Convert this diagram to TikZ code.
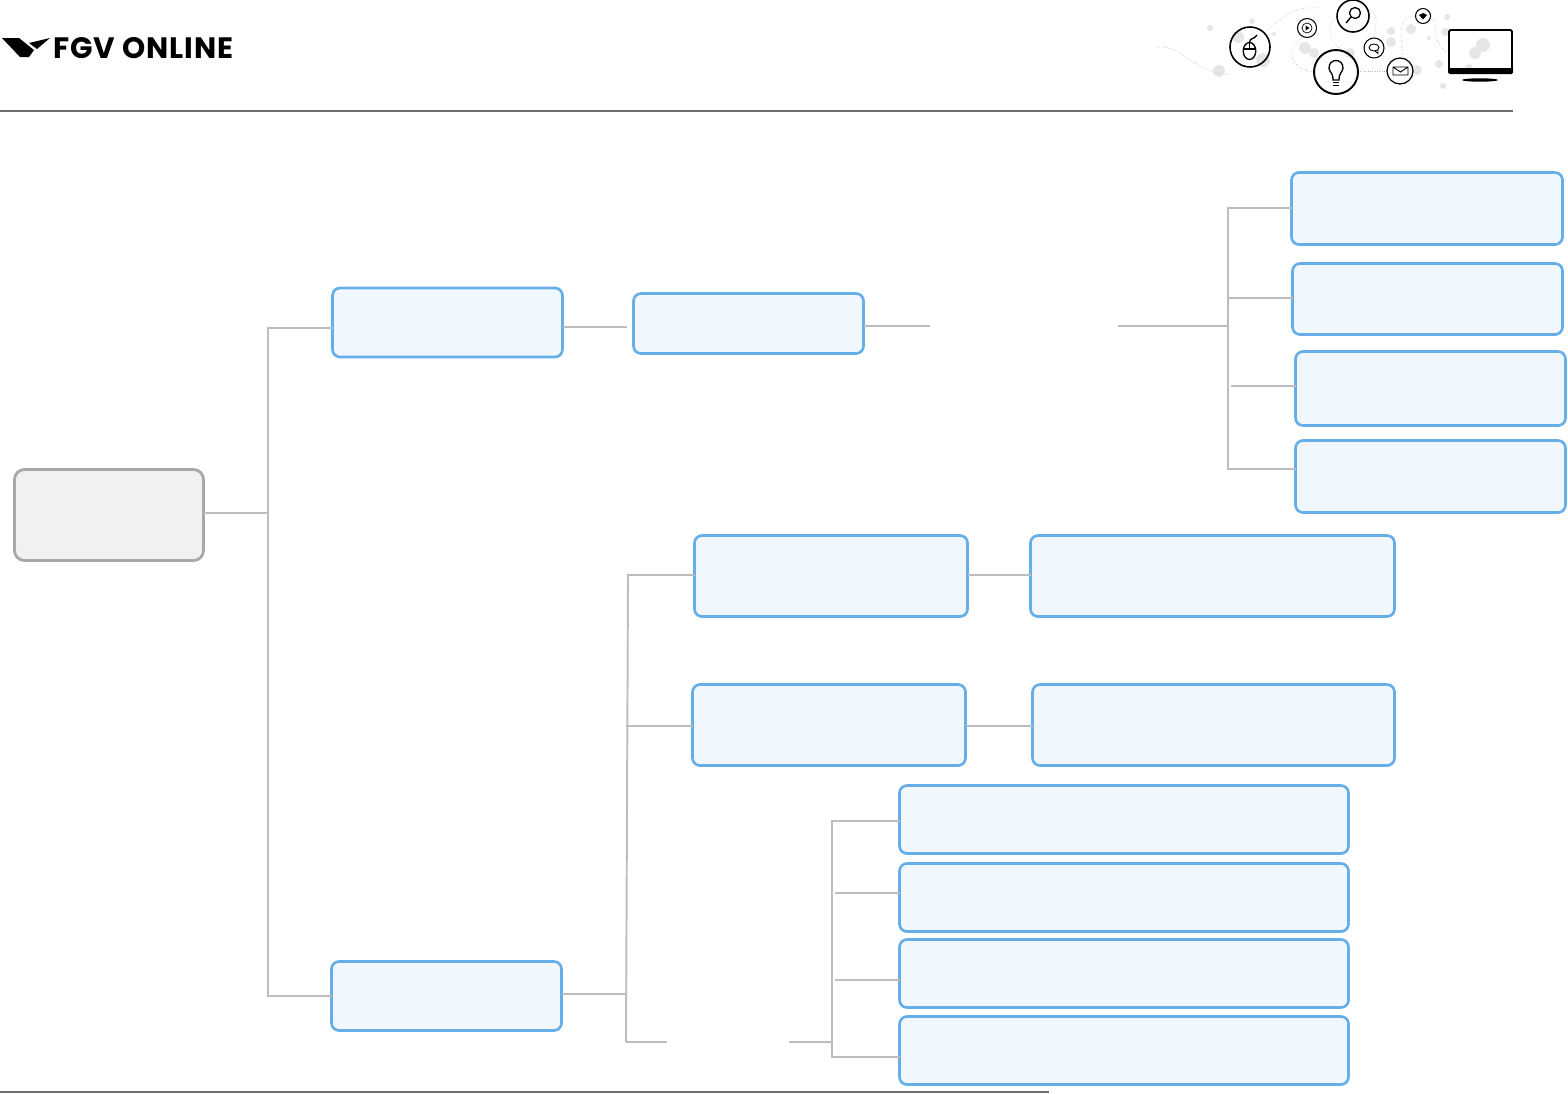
\documentclass[tikz,border=0pt]{standalone}
\usepackage{fontspec}
\newfontfamily\logofont[LetterSpace=3]{Poppins}
\definecolor{boxblue}{HTML}{66AEE8}
\definecolor{boxfill}{HTML}{F0F7FE}
\definecolor{rootline}{HTML}{A8A8A8}
\definecolor{rootfill}{HTML}{F1F1F1}
\definecolor{wireg}{HTML}{BDBDBD}
\definecolor{ruleg}{HTML}{6E6E6E}
\definecolor{dotg}{HTML}{E6E6E6}
\tikzset{
    sized/.style 2 args={minimum width=#1*0.02cm, minimum height=#2*0.02cm, inner sep=0pt, outer sep=0pt},
    bluebox/.style={draw=boxblue, fill=boxfill, line width=1.5pt, rounded corners=0.15cm},
    rootbox/.style={draw=rootline, fill=rootfill, line width=1.6pt, rounded corners=0.2cm},
    wire/.style={draw=wireg, line width=0.75pt},
    wirethick/.style={draw=wireg, line width=1.1pt},
    iconline/.style={draw=black, line width=0.75pt},
    iconring/.style={draw=black, line width=0.9pt},
    trail/.style={draw=gray!60, line width=0.35pt, densely dotted},
}
\begin{document}
\begin{tikzpicture}[x=0.02cm, y=-0.02cm]
    \useasboundingbox (0,0) rectangle (1568,1093);

    % header and footer
    \draw[ruleg, line width=1.1pt] (0,111) -- (1513,111);
    \draw[ruleg, line width=1.1pt] (0,1092) -- (1049,1092);
    \fill (2,38) -- (19,38) -- (34,50) -- (29,57) -- (20,57) -- cycle;
    \fill (29,43) -- (50,38) -- (37,49) -- cycle;
    \node[anchor=west, inner sep=0pt] (logotext) at (53,48) {\logofont\bfseries\fontsize{16.8pt}{18pt}\selectfont FGV ONLINE};

    % dots behind the icons
    \foreach \px/\py/\pr in {1210/28/3, 1252/21/3, 1238/37/6, 1263/60/7, 1219/71/6, 1274/34/2,
        1305/48/6, 1314/53/5, 1350/53/5, 1391/31/4, 1391/42/5, 1411/29/5, 1447/17/3,
        1445/32/4, 1429/38/2, 1439/64/4, 1417/70/5, 1443/86/3, 1469/68/4}
        \fill[dotg] (\px,\py) circle[radius=\pr*0.02cm];
    \draw[trail] (1157,47) .. controls (1185,45) and (1190,72) .. (1230,75);
    \draw[trail] (1267,30) .. controls (1285,15) and (1295,6) .. (1320,8);
    \draw[trail] (1302,38) .. controls (1285,50) and (1290,70) .. (1315,72);
    \draw[trail] (1335,18) .. controls (1325,25) and (1330,45) .. (1345,52);
    \draw[trail] (1370,10) .. controls (1380,15) and (1375,30) .. (1374,38);
    \draw[trail] (1358,71) -- (1387,71);
    \draw[trail] (1416,16) .. controls (1400,15) and (1400,30) .. (1402,45) .. controls (1404,60) and (1402,60) .. (1400,58);
    \draw[trail] (1430,16) .. controls (1440,20) and (1430,45) .. (1448,52);

    % icons
    \draw[iconring] (1250,47) circle[radius=20*0.02cm];
    \draw[iconline] (1249.5,51) ellipse[x radius=6.3*0.02cm, y radius=8.5*0.02cm];
    \draw[iconline] (1243.2,49) -- (1255.8,49) (1249.5,42.5) -- (1249.5,49);
    \draw[iconline] (1249.5,42.5) .. controls (1250,37) and (1254,40) .. (1257,35);
    \draw[iconring, line width=0.6pt] (1307,28) circle[radius=9.5*0.02cm];
    \draw[iconline, line width=0.4pt] (1307,28) circle[radius=5*0.02cm];
    \fill (1305.5,25.5) -- (1309.5,28) -- (1305.5,30.5) -- cycle;
    \draw[iconring] (1353,16) circle[radius=16*0.02cm];
    \draw[iconline] (1355,13) circle[radius=5.5*0.02cm] (1351,17) -- (1346,23);
    \draw[iconring, line width=1.1pt] (1336,72) circle[radius=22*0.02cm];
    \draw[iconline] (1333,80) .. controls (1333,72) and (1329,72) .. (1329,68) .. controls (1329,58) and (1343,58) .. (1343,68) .. controls (1343,72) and (1339,72) .. (1339,80) -- cycle;
    \draw[iconline, line width=0.5pt] (1333,82.5) -- (1339,82.5) (1333,85) -- (1339,85);
    \draw[iconring, line width=0.6pt] (1374,48) circle[radius=10*0.02cm];
    \draw[iconline, line width=0.5pt] (1374,47.5) ellipse[x radius=5*0.02cm, y radius=3.5*0.02cm];
    \draw[iconline, line width=0.5pt] (1375,51) -- (1378,53.5) -- (1378,50);
    \draw[iconring, line width=0.7pt] (1400,71) circle[radius=13*0.02cm];
    \draw[iconline, line width=0.5pt] (1393,67) rectangle (1408,75) (1393,67) -- (1400.5,72) -- (1408,67);
    \draw[iconring, line width=0.6pt] (1423,16) circle[radius=7.5*0.02cm];
    \fill (1419,15) -- (1423,13) -- (1427,15) -- (1423,19.5) -- cycle;
    \fill[dotg] (1483,45) circle[radius=7*0.02cm];
    \fill[dotg] (1475,53) circle[radius=6*0.02cm];
    \draw[rounded corners=0.04cm, line width=1.1pt] (1449,30) rectangle (1512,72);
    \fill[rounded corners=0.03cm] (1448,68) rectangle (1513,74);
    \fill (1480,80) ellipse[x radius=18*0.02cm, y radius=1.7*0.02cm];

    % boxes
    \node[rootbox, sized={189}{91}] (root) at (109,515) {};
    \node[bluebox, sized={230}{69}] (planA) at (447.5,322.5) {};
    \node[bluebox, sized={230}{60}] (planB) at (748.5,323.5) {};
    \node[sized={188}{20}] (gapA) at (1024,326) {};
    \node[bluebox, sized={271}{72}] (optA) at (1427,208.5) {};
    \node[bluebox, sized={270}{71}] (optB) at (1427.5,299) {};
    \node[bluebox, sized={270}{74}] (optC) at (1430.5,388.5) {};
    \node[bluebox, sized={270}{72}] (optD) at (1430.5,476.5) {};
    \node[bluebox, sized={273}{81}] (stepA) at (831,576) {};
    \node[bluebox, sized={364}{81}] (stepAr) at (1212.5,576) {};
    \node[bluebox, sized={273}{81}] (stepB) at (829,725) {};
    \node[bluebox, sized={362}{81}] (stepBr) at (1213.5,725) {};
    \node[bluebox, sized={230}{69}] (planC) at (446.5,996) {};
    \node[sized={122}{20}] (gapB) at (728,1042) {};
    \node[bluebox, sized={449}{68}] (itemA) at (1124,819.5) {};
    \node[bluebox, sized={449}{68}] (itemB) at (1124,897.5) {};
    \node[bluebox, sized={449}{68}] (itemC) at (1124,973.5) {};
    \node[bluebox, sized={449}{68}] (itemD) at (1124,1050.5) {};

    % joints
    \coordinate (forkA) at (268,513);
    \coordinate (forkAtop) at (268,328);
    \coordinate (forkAbot) at (268,996);
    \coordinate (forkB) at (1228,326);
    \coordinate (forkBa) at (1228,208);
    \coordinate (forkBb) at (1228,298);
    \coordinate (forkBc) at (1231,386);
    \coordinate (forkBd) at (1228,469);
    \coordinate (forkC) at (627,994);
    \coordinate (forkCa) at (628,575);
    \coordinate (forkCb) at (626,726);
    \coordinate (forkCc) at (626,1042);
    \coordinate (forkD) at (832,1042);
    \coordinate (forkDa) at (832,821);
    \coordinate (forkDb) at (835,893);
    \coordinate (forkDc) at (835,980);
    \coordinate (forkDd) at (832,1057);
    \coordinate (planAend) at (627,327);

    % connectors
    \draw[wire] (root.east |- forkA) -- (forkA);
    \draw[wire] (forkAtop -| planA.west) -- (forkAtop) -- (forkAbot) -- (forkAbot -| planC.west);
    \draw[wire] (planAend -| planA.east) -- (planAend);
    \draw[wire] (planB.east |- gapA) -- (gapA.west);
    \draw[wire] (gapA.east) -- (forkB);
    \draw[wire] (forkBa -| optA.west) -- (forkBa) -- (forkBd) -- (forkBd -| optD.west);
    \draw[wirethick] (forkBb) -- (forkBb -| optB.west);
    \draw[wire] (forkBc) -- (forkBc -| optC.west);
    \draw[wirethick] (forkC -| planC.east) -- (forkC);
    \draw[wirethick] (forkCa -| stepA.west) -- (forkCa) -- (forkCc);
    \draw[wirethick] (forkCb) -- (forkCb -| stepB.west);
    \draw[wire] (forkCc) -- (gapB.west);
    \draw[wirethick] (forkCa -| stepA.east) -- (forkCa -| stepAr.west);
    \draw[wirethick] (forkCb -| stepB.east) -- (forkCb -| stepBr.west);
    \draw[wire] (gapB.east) -- (forkD);
    \draw[wirethick] (forkDa -| itemA.west) -- (forkDa) -- (forkDd) -- (forkDd -| itemD.west);
    \draw[wire] (forkDb) -- (forkDb -| itemB.west);
    \draw[wire] (forkDc) -- (forkDc -| itemC.west);
\end{tikzpicture}
\end{document}
